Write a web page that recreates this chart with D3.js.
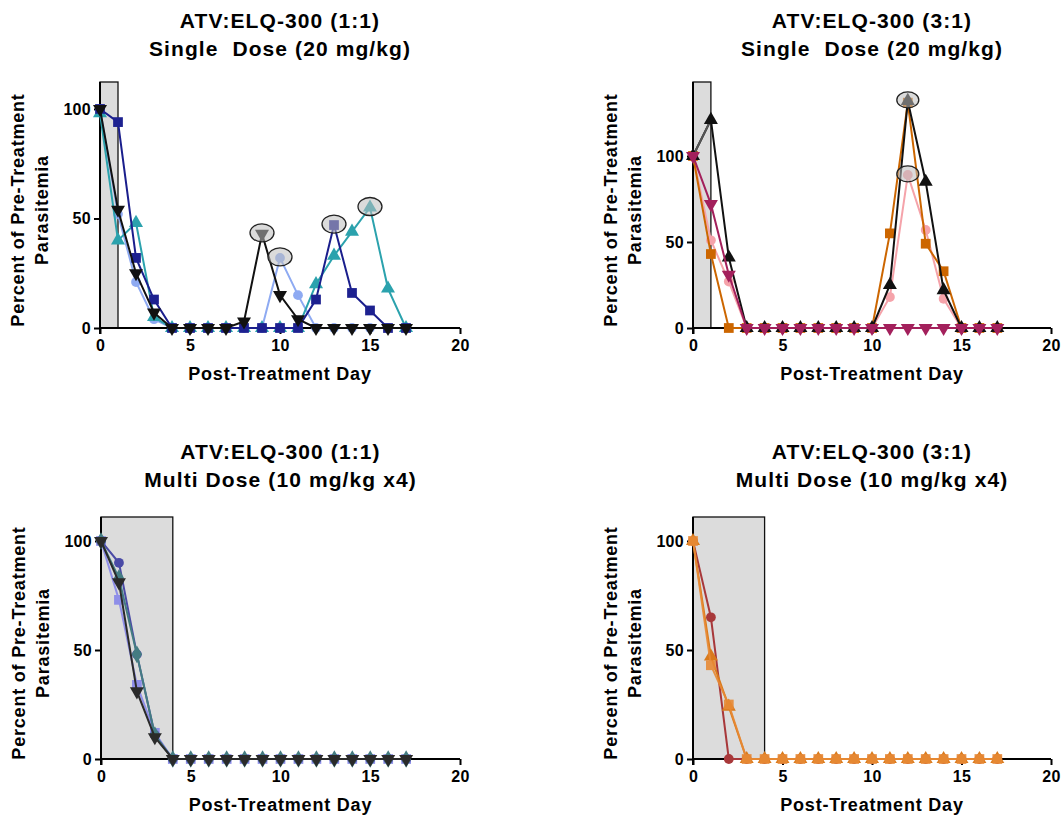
<!DOCTYPE html>
<html>
<head>
<meta charset="utf-8">
<script src="https://cdn.jsdelivr.net/npm/d3@7"></script>
<style>
  body { margin: 0; background: #fff; }
  svg { display: block; font-family: "Liberation Sans", Arial, sans-serif; }
  text { white-space: pre; }
</style>
</head>
<body>
<svg id="chart" width="1063" height="815"></svg>
<script>
// day axis shared by every panel
const days = [0, 1, 2, 3, 4, 5, 6, 7, 8, 9, 10, 11, 12, 13, 14, 15, 16, 17];
const xTicks = [0, 5, 10, 15, 20];
const yTicks = [0, 50, 100];

// ATV:ELQ-300 (1:1) single dose
const s11_navy  = [100, 94, 32, 13, 0, 0, 0, 0, 0, 0, 0, 0, 13, 47, 16, 8, 0, 0];
const s11_light = [100, 52, 21, 4, 0, 0, 0, 0, 0, 0, 32, 15, 0, 0, 0, 0, 0, 0];
const s11_teal  = [98, 40, 48, 5, 0, 0, 0, 0, 0, 0, 0, 0, 20, 33, 44, 55, 18, 0];
const s11_black = [100, 54, 25, 7, 0, 0, 0, 0, 3, 43, 15, 4, 0, 0, 0, 0, 0, 0];

// ATV:ELQ-300 (3:1) single dose
const s31_pink   = [100, 51, 27, 0, 0, 0, 0, 0, 0, 0, 0, 18, 89, 57, 17, 0, 0, 0];
const s31_orange = [100, 43, 0, 0, 0, 0, 0, 0, 0, 0, 0, 55, 131, 49, 33, 0, 0, 0];
const s31_black  = [100, 121, 41, 0, 0, 0, 0, 0, 0, 0, 0, 25, 132, 85, 22, 0, 0, 0];
const s31_maroon = [100, 72, 31, 0, 0, 0, 0, 0, 0, 0, 0, 0, 0, 0, 0, 0, 0, 0];

// ATV:ELQ-300 (1:1) multi dose
const m11_lilac  = [100, 73, 34, 12, 0, 0, 0, 0, 0, 0, 0, 0, 0, 0, 0, 0, 0, 0];
const m11_indigo = [100, 90, 48, 11, 0, 0, 0, 0, 0, 0, 0, 0, 0, 0, 0, 0, 0, 0];
const m11_slate  = [100, 83, 48, 11, 0, 0, 0, 0, 0, 0, 0, 0, 0, 0, 0, 0, 0, 0];
const m11_black  = [100, 81, 31, 10, 0, 0, 0, 0, 0, 0, 0, 0, 0, 0, 0, 0, 0, 0];

// ATV:ELQ-300 (3:1) multi dose
const m31_red    = [100, 65, 0, 0, 0, 0, 0, 0, 0, 0, 0, 0, 0, 0, 0, 0, 0, 0];
const m31_tri    = [100, 47, 24, 0, 0, 0, 0, 0, 0, 0, 0, 0, 0, 0, 0, 0, 0, 0];
const m31_square = [100, 43, 25, 0, 0, 0, 0, 0, 0, 0, 0, 0, 0, 0, 0, 0, 0, 0];

// circled relapse peaks [day, value]
const peaks11 = [[9, 43], [10, 32], [13, 47], [15, 55]];
const peaks31 = [[12, 132], [12, 89]];

const svg = d3.select("#chart");

const panels = [
  {
    title: ["ATV:ELQ-300 (1:1)", "Single  Dose (20 mg/kg)"],
    left: 100, right: 460, zero: 328, top: 82, yMax: 112.3, shade: 1,
    peaks: peaks11, peakR: [12, 9],
    series: [
      { v: s11_light, color: "#8eaaf2", sym: "circle" },
      { v: s11_teal,  color: "#2ba2ad", sym: "up" },
      { v: s11_navy,  color: "#1a1e8c", sym: "square", fill: "#1d2190" },
      { v: s11_black, color: "#111111", sym: "down" },
    ],
  },
  {
    title: ["ATV:ELQ-300 (3:1)", "Single  Dose (20 mg/kg)"],
    left: 693, right: 1051, zero: 328, top: 82, yMax: 143, shade: 1,
    peaks: peaks31, peakR: [11, 8],
    series: [
      { v: s31_pink,   color: "#f5a3aa", sym: "circle" },
      { v: s31_orange, color: "#cc6600", sym: "square" },
      { v: s31_black,  color: "#111111", sym: "up", firstSeg: "#555555" },
      { v: s31_maroon, color: "#a3205c", sym: "down" },
    ],
  },
  {
    title: ["ATV:ELQ-300 (1:1)", "Multi Dose (10 mg/kg x4)"],
    left: 101, right: 460, zero: 759, top: 517, yMax: 111, shade: 4,
    peaks: [], peakR: [0, 0],
    series: [
      { v: m11_lilac,  color: "#8e8ee8", sym: "square" },
      { v: m11_indigo, color: "#4a4aa6", sym: "circle" },
      { v: m11_slate,  color: "#447c82", sym: "diamond" },
      { v: m11_black,  color: "#2a2a2a", sym: "down" },
    ],
  },
  {
    title: ["ATV:ELQ-300 (3:1)", "Multi Dose (10 mg/kg x4)"],
    left: 693, right: 1051, zero: 759, top: 517, yMax: 111, shade: 4,
    peaks: [], peakR: [0, 0],
    series: [
      { v: m31_red,    color: "#a8383a", sym: "circle" },
      { v: m31_tri,    color: "#d97a1c", sym: "up" },
      { v: m31_square, color: "#e88a35", sym: "square", opacity: 0.9 },
    ],
  },
];

const symbolOf = {
  circle: { type: d3.symbolCircle, size: 75, rot: 0 },
  square: { type: d3.symbolSquare, size: 95, rot: 0 },
  up: { type: d3.symbolTriangle, size: 85, rot: 0 },
  down: { type: d3.symbolTriangle, size: 85, rot: 180 },
  diamond: { type: d3.symbolDiamond, size: 90, rot: 0 },
};

panels.forEach(p => {
  const x = d3.scaleLinear().domain([0, 20]).range([p.left, p.right]);
  const y = d3.scaleLinear().domain([0, p.yMax]).range([p.zero, p.top]);
  const g = svg.append("g");
  const cx = (p.left + p.right) / 2;

  // titles
  p.title.forEach((t, i) => {
    g.append("text").attr("x", cx).attr("y", p.zero - 300 + i * 28)
      .attr("text-anchor", "middle").attr("font-size", 21).attr("font-weight", "bold")
      .attr("letter-spacing", 1.1)
      .text(t);
  });

  // dosing window
  g.append("rect")
    .attr("x", x(0)).attr("y", y(p.yMax))
    .attr("width", x(p.shade) - x(0)).attr("height", y(0) - y(p.yMax))
    .attr("fill", "#dcdcdc").attr("stroke", "#111").attr("stroke-width", 1.3);

  // axes
  const xAxis = g.append("g").attr("transform", `translate(0,${y(0)})`)
    .call(d3.axisBottom(x).tickValues(xTicks).tickSize(6).tickPadding(6));
  const yAxis = g.append("g").attr("transform", `translate(${x(0)},0)`)
    .call(d3.axisLeft(y).tickValues(yTicks).tickSize(6).tickPadding(3));
  [xAxis, yAxis].forEach(a => {
    a.select(".domain").attr("stroke", "#000").attr("stroke-width", 2);
    a.selectAll(".tick line").attr("stroke", "#000").attr("stroke-width", 2);
    a.selectAll(".tick text").attr("font-size", 16).attr("font-weight", "bold")
      .attr("font-family", "Liberation Sans, Arial, sans-serif").attr("fill", "#000")
      .attr("letter-spacing", 0.3);
  });
  // axis domain without outer ticks
  xAxis.select(".domain").attr("d", `M${x(0)},0H${x(20)}`);
  yAxis.select(".domain").attr("d", `M0,${y(0) + 6}V${y(p.yMax)}`);

  // axis titles
  g.append("text").attr("x", cx).attr("y", p.zero + 52)
    .attr("text-anchor", "middle").attr("font-size", 18).attr("font-weight", "bold")
    .attr("letter-spacing", 0.8)
    .text("Post-Treatment Day");
  const yl = g.append("text")
    .attr("transform", `translate(${p.left - 76},${(p.zero + p.top) / 2 + 5}) rotate(-90)`)
    .attr("text-anchor", "middle").attr("font-size", 18).attr("font-weight", "bold")
    .attr("letter-spacing", 0.8);
  yl.append("tspan").attr("x", 0).attr("dy", 0).text("Percent of Pre-Treatment");
  yl.append("tspan").attr("x", 0).attr("dy", 24).text("Parasitemia");

  // series
  const line = d3.line().x((d, i) => x(days[i])).y(d => y(d));
  p.series.forEach(s => {
    const sg = g.append("g").attr("opacity", s.opacity || 1);
    sg.append("path").datum(s.v).attr("d", line)
      .attr("fill", "none").attr("stroke", s.color).attr("stroke-width", 2);
    if (s.firstSeg) {
      sg.append("path").datum(s.v.slice(0, 2)).attr("d", line)
        .attr("fill", "none").attr("stroke", s.firstSeg).attr("stroke-width", 2);
    }
    const sym = symbolOf[s.sym];
    sg.selectAll("path.mark").data(s.v).join("path").attr("class", "mark")
      .attr("transform", (d, i) => `translate(${x(days[i])},${y(d)}) rotate(${sym.rot})`)
      .attr("d", d3.symbol().type(sym.type).size(sym.size))
      .attr("fill", s.fill || s.color);
  });

  // circled relapse peaks
  g.selectAll("ellipse.peak").data(p.peaks).join("ellipse").attr("class", "peak")
    .attr("cx", d => x(d[0])).attr("cy", d => y(d[1]) - 1)
    .attr("rx", p.peakR[0]).attr("ry", p.peakR[1])
    .attr("fill", "rgba(190,190,190,0.55)").attr("stroke", "#222").attr("stroke-width", 1.3);
});
</script>
</body>
</html>
